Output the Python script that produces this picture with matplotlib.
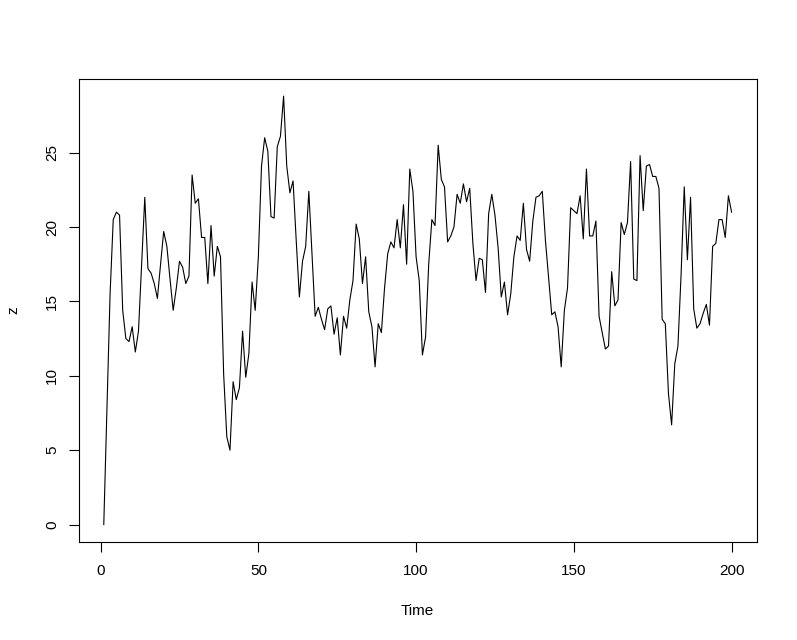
import numpy as np
import matplotlib
matplotlib.use("Agg")
import matplotlib.pyplot as plt

plt.rcParams['font.family'] = ['Liberation Sans', 'DejaVu Sans']

# series z (t = 1..200)
z = [
    0.0, 7.8, 15.5, 20.5, 21.0, 20.8, 14.4, 12.5, 12.3, 13.3,
    11.6, 13.0, 17.5, 22.0, 17.2, 16.9, 16.2, 15.2, 17.5, 19.7,
    18.7, 16.5, 14.4, 15.9, 17.7, 17.3, 16.2, 16.7, 23.5, 21.6,
    21.9, 19.3, 19.3, 16.2, 20.1, 16.7, 18.7, 18.0, 10.1, 5.9,
    5.0, 9.6, 8.4, 9.2, 13.0, 9.9, 11.5, 16.3, 14.4, 18.0,
    24.1, 26.0, 25.1, 20.7, 20.6, 25.4, 26.1, 28.8, 24.1, 22.3,
    23.1, 19.1, 15.3, 17.7, 18.7, 22.4, 18.2, 14.0, 14.6, 13.8,
    13.1, 14.5, 14.7, 12.8, 13.9, 11.4, 14.0, 13.2, 15.1, 16.4,
    20.2, 19.2, 16.2, 18.0, 14.3, 13.3, 10.6, 13.5, 12.9, 15.9,
    18.2, 19.0, 18.6, 20.5, 18.6, 21.5, 17.5, 23.9, 22.4, 18.0,
    16.4, 11.4, 12.6, 17.5, 20.5, 20.1, 25.5, 23.2, 22.7, 19.0,
    19.4, 20.0, 22.2, 21.6, 22.9, 21.7, 22.6, 18.9, 16.4, 17.9,
    17.8, 15.6, 20.9, 22.2, 20.8, 18.6, 15.3, 16.3, 14.1, 15.5,
    18.0, 19.4, 19.1, 21.6, 18.5, 17.7, 20.4, 22.0, 22.1, 22.4,
    19.1, 16.6, 14.1, 14.3, 13.3, 10.6, 14.4, 15.9, 21.3, 21.1,
    20.9, 22.1, 19.2, 23.9, 19.4, 19.4, 20.4, 14.0, 12.9, 11.8,
    12.0, 17.0, 14.7, 15.1, 20.3, 19.5, 20.3, 24.4, 16.5, 16.4,
    24.8, 21.1, 24.1, 24.2, 23.4, 23.4, 22.6, 13.8, 13.5, 8.8,
    6.7, 10.8, 12.0, 16.8, 22.7, 17.8, 22.0, 14.5, 13.2, 13.5,
    14.2, 14.8, 13.4, 18.7, 18.9, 20.5, 20.5, 19.3, 22.1, 21.0,
]
time = np.arange(1, len(z) + 1)

x_ticks = [0, 50, 100, 150, 200]
y_ticks = [0, 5, 10, 15, 20, 25]

fig = plt.figure(figsize=(7.97, 6.4), dpi=100)
ax = fig.add_axes([0.0987, 0.1536, 0.8507, 0.723])

ax.plot(time, z, color='black', lw=0.8)

# R style padding of 4% on each side
xr = time.max() - time.min()
yr = max(z) - min(z)
ax.set_xlim(time.min() - 0.04 * xr, time.max() + 0.04 * xr)
ax.set_ylim(min(z) - 0.04 * yr, max(z) + 0.04 * yr)

ax.set_xticks(x_ticks)
ax.set_yticks(y_ticks)
ax.set_yticklabels([str(v) for v in y_ticks], rotation=90, va='center')
ax.tick_params(direction='out', length=7, width=0.8, labelsize=11)
ax.tick_params(axis='x', pad=9)
ax.tick_params(axis='y', pad=7)
for s in ax.spines.values():
    s.set_linewidth(0.8)

ax.set_xlabel('Time', fontsize=11, labelpad=19)
ax.set_ylabel('z', fontsize=11, labelpad=18)

fig.savefig('out.png', dpi=100)
